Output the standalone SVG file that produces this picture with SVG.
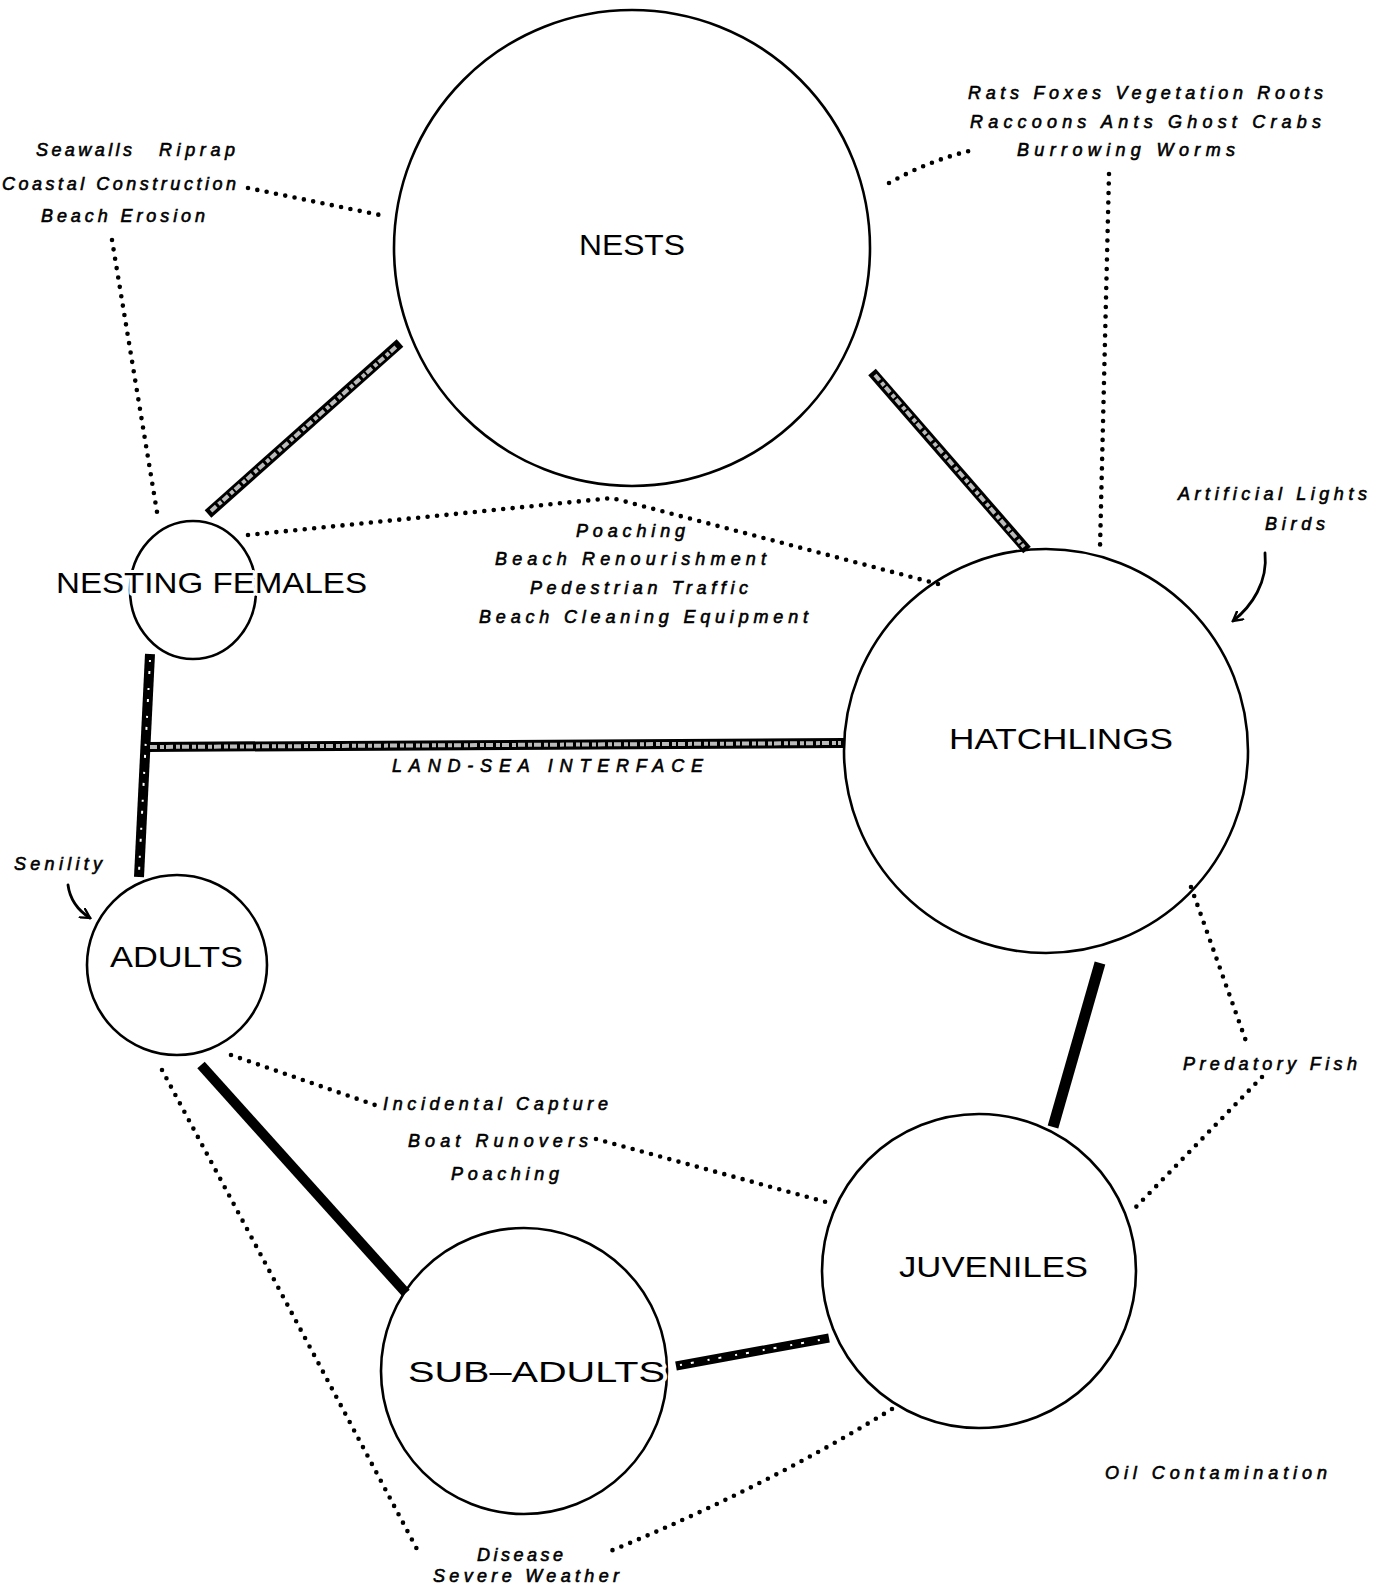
<svg xmlns="http://www.w3.org/2000/svg" width="1379" height="1590" viewBox="0 0 1379 1590">
<style>
.node{fill:none;stroke:#000;stroke-width:2.6}
.nlab{font-family:"Liberation Sans",Arial,sans-serif;font-size:30px;fill:#000;paint-order:stroke;stroke:#fff;stroke-width:6;stroke-linejoin:round}
.lbl{font-family:"Liberation Sans",Arial,sans-serif;font-size:18px;font-style:italic;fill:#000;stroke:#000;stroke-width:0.6}
.dot{fill:none;stroke:#000;stroke-width:4.6;stroke-linecap:round;stroke-dasharray:0 9.5}
.bar{fill:none;stroke:#000;stroke-width:10;stroke-linecap:butt}
.barin{fill:none;stroke:#bbb;stroke-width:4;stroke-dasharray:7 3 4 2;stroke-linecap:butt}
.barin2{fill:none;stroke:#fff;stroke-width:2;stroke-dasharray:2 9 3 14;stroke-linecap:butt}
.arr{fill:none;stroke:#000;stroke-width:2.8;stroke-linecap:round}
</style>
<defs>
<marker id="ah" viewBox="0 0 12 12" refX="10" refY="6" markerWidth="12" markerHeight="12" markerUnits="userSpaceOnUse" orient="auto">
<path d="M1,1 L10,6 L1,11" fill="none" stroke="#000" stroke-width="2.4" stroke-linecap="round"/>
</marker>
</defs>
<rect width="1379" height="1590" fill="#fff"/>
<g id="connectors">
<line class="bar" x1="208" y1="514" x2="400" y2="343"/>
<line class="barin" x1="211" y1="511" x2="397" y2="346"/>
<line class="bar" x1="872" y1="372" x2="1027" y2="550"/>
<line class="barin" x1="875" y1="375" x2="1024" y2="547"/>
<line class="bar" x1="150" y1="654" x2="139" y2="877"/>
<line class="barin2" x1="150" y1="660" x2="139" y2="872"/>
<line class="bar" x1="147" y1="747" x2="844" y2="743"/>
<line class="barin" x1="150" y1="747" x2="841" y2="743"/>
<line class="bar" x1="1100" y1="963" x2="1053" y2="1127" style="stroke-width:11"/>
<line class="bar" x1="201" y1="1065" x2="406" y2="1293"/>
<line class="bar" x1="676" y1="1366" x2="829" y2="1338" style="stroke-width:9"/>
<line class="barin2" x1="680" y1="1365" x2="825" y2="1339"/>
<path class="dot" d="M248,188 L380,215"/>
<path class="dot" d="M112,240 L157,512"/>
<path class="dot" d="M889,183 Q930,160 973,150"/>
<path class="dot" d="M1109,174 L1100,548"/>
<path class="dot" d="M248,535 L612,498 L938,584"/>
<path class="dot" d="M1191,887 L1247,1044"/>
<path class="dot" d="M1262,1077 L1136,1207"/>
<path class="dot" d="M231,1055 L375,1105"/>
<path class="dot" d="M596,1139 L826,1202"/>
<path class="dot" d="M162,1070 Q280,1290 419,1553"/>
<path class="dot" d="M892,1409 Q760,1490 608,1552"/>
<path class="arr" d="M1265,553 C1268,582 1252,606 1233,621" marker-end="url(#ah)"/>
<path class="arr" d="M68,885 C70,900 79,911 90,918" marker-end="url(#ah)"/>
</g>
<g id="nests">
<circle class="node" cx="632" cy="248" r="238"/>
<text class="nlab" x="579" y="255" textLength="106" lengthAdjust="spacingAndGlyphs">NESTS</text>
</g>
<g id="nesting-females">
<ellipse class="node" cx="193" cy="590" rx="63" ry="69"/>
<text class="nlab" x="56" y="593" textLength="311" lengthAdjust="spacingAndGlyphs">NESTING FEMALES</text>
</g>
<g id="hatchlings">
<circle class="node" cx="1046" cy="751" r="202"/>
<text class="nlab" x="949" y="749" textLength="224" lengthAdjust="spacingAndGlyphs">HATCHLINGS</text>
</g>
<g id="adults">
<circle class="node" cx="177" cy="965" r="90"/>
<text class="nlab" x="110" y="967" textLength="133" lengthAdjust="spacingAndGlyphs">ADULTS</text>
</g>
<g id="juveniles">
<circle class="node" cx="979" cy="1271" r="157"/>
<text class="nlab" x="899" y="1277" textLength="189" lengthAdjust="spacingAndGlyphs">JUVENILES</text>
</g>
<g id="sub-adults">
<circle class="node" cx="524" cy="1371" r="143"/>
<text class="nlab" x="408" y="1382" textLength="257" lengthAdjust="spacingAndGlyphs">SUB–ADULTS</text>
</g>
<g id="labels">
<text class="lbl" x="36" y="156" textLength="96" lengthAdjust="spacing">Seawalls</text>
<text class="lbl" x="159" y="156" textLength="76" lengthAdjust="spacing">Riprap</text>
<text class="lbl" x="2" y="190" textLength="234" lengthAdjust="spacing">Coastal Construction</text>
<text class="lbl" x="41" y="222" textLength="164" lengthAdjust="spacing">Beach Erosion</text>
<text class="lbl" x="968" y="99" textLength="355" lengthAdjust="spacing">Rats Foxes Vegetation Roots</text>
<text class="lbl" x="970" y="128" textLength="351" lengthAdjust="spacing">Raccoons Ants Ghost Crabs</text>
<text class="lbl" x="1017" y="156" textLength="218" lengthAdjust="spacing">Burrowing Worms</text>
<text class="lbl" x="576" y="537" textLength="109" lengthAdjust="spacing">Poaching</text>
<text class="lbl" x="495" y="565" textLength="271" lengthAdjust="spacing">Beach Renourishment</text>
<text class="lbl" x="530" y="594" textLength="218" lengthAdjust="spacing">Pedestrian Traffic</text>
<text class="lbl" x="479" y="623" textLength="329" lengthAdjust="spacing">Beach Cleaning Equipment</text>
<text class="lbl" x="392" y="772" textLength="311" lengthAdjust="spacing">LAND-SEA INTERFACE</text>
<text class="lbl" x="14" y="870" textLength="88" lengthAdjust="spacing">Senility</text>
<text class="lbl" x="1178" y="500" textLength="189" lengthAdjust="spacing">Artificial Lights</text>
<text class="lbl" x="1265" y="530" textLength="60" lengthAdjust="spacing">Birds</text>
<text class="lbl" x="1183" y="1070" textLength="174" lengthAdjust="spacing">Predatory Fish</text>
<text class="lbl" x="383" y="1110" textLength="225" lengthAdjust="spacing">Incidental Capture</text>
<text class="lbl" x="408" y="1147" textLength="180" lengthAdjust="spacing">Boat Runovers</text>
<text class="lbl" x="451" y="1180" textLength="108" lengthAdjust="spacing">Poaching</text>
<text class="lbl" x="1105" y="1479" textLength="222" lengthAdjust="spacing">Oil Contamination</text>
<text class="lbl" x="477" y="1561" textLength="86" lengthAdjust="spacing">Disease</text>
<text class="lbl" x="433" y="1582" textLength="186" lengthAdjust="spacing">Severe Weather</text>
</g>
</svg>
